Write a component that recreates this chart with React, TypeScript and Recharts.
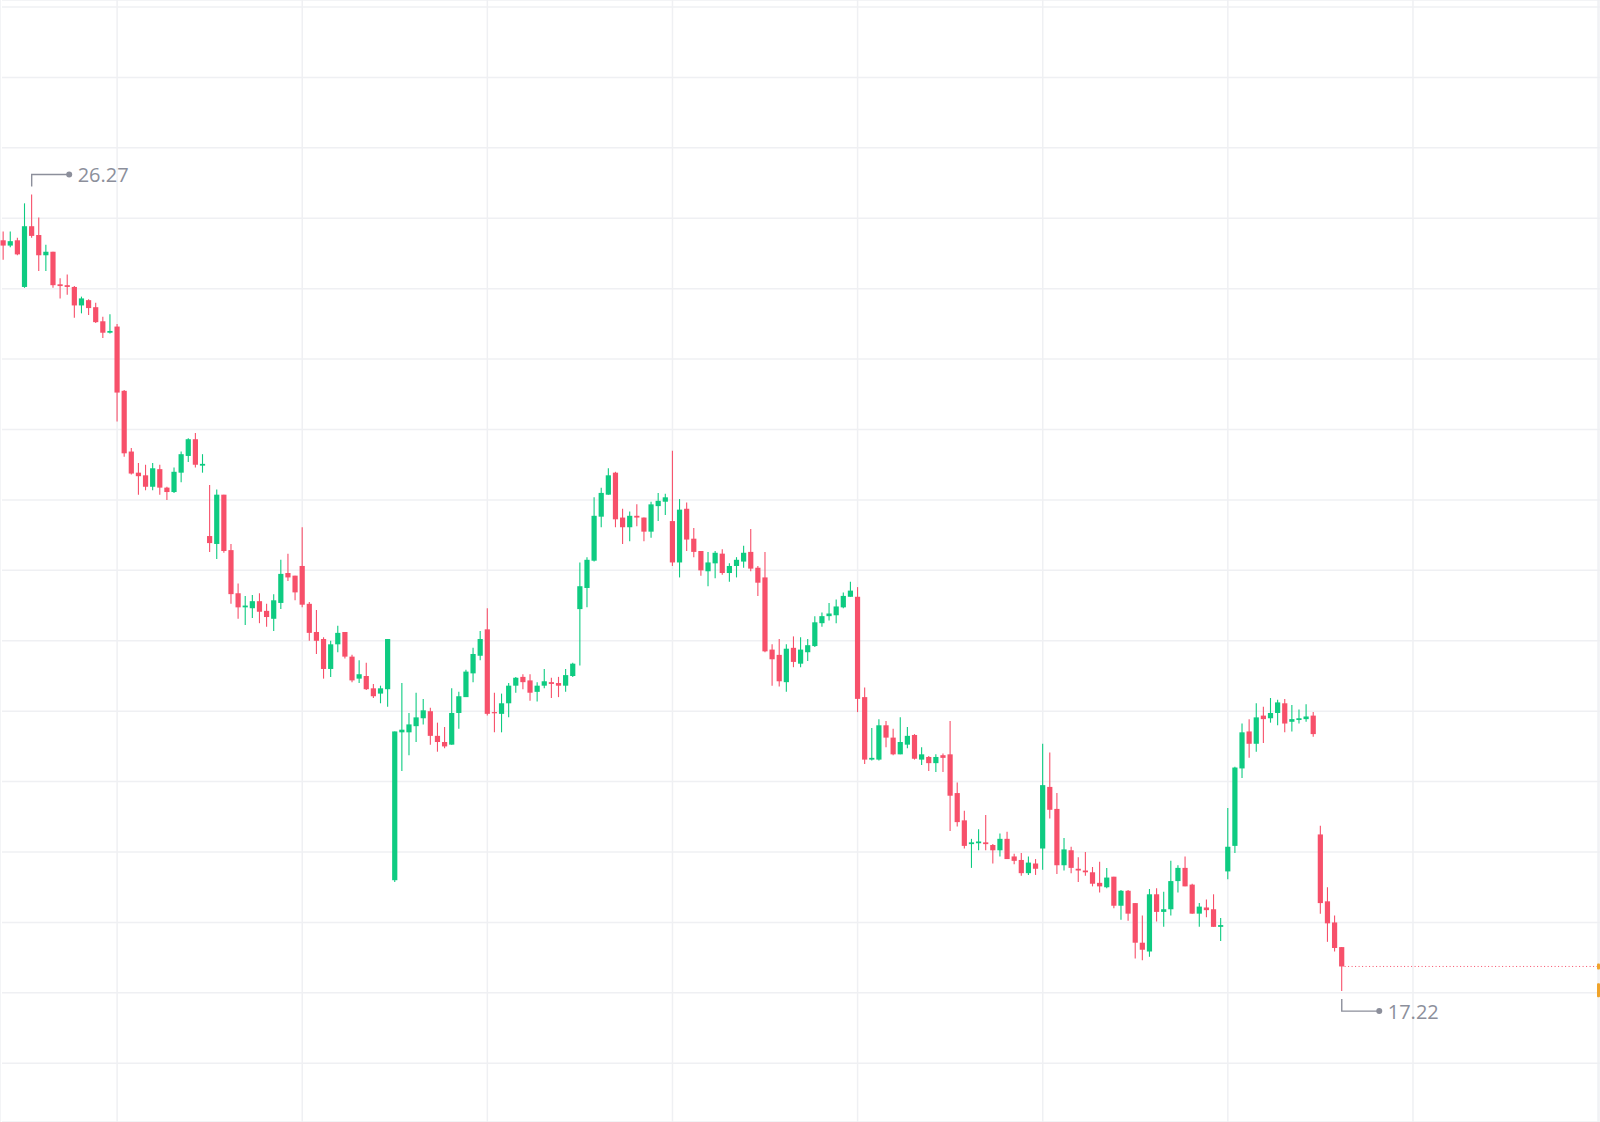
import {
  Bar,
  CartesianGrid,
  ComposedChart,
  ReferenceDot,
  ReferenceLine,
  XAxis,
  YAxis,
} from "recharts";

// daily candles
const opens = [
  25.75, 25.69, 25.75, 25.22, 25.91, 25.81, 25.58, 25.62, 25.25, 25.24,
  25.22, 25.01, 25.07, 24.99, 24.83, 24.7, 24.77, 24.04, 23.35, 23.11,
  23.08, 22.95, 23.15, 22.94, 22.89, 23.11, 23.3, 23.49, 23.19, 22.39,
  22.3, 22.86, 22.23, 21.74, 21.58, 21.57, 21.65, 21.54, 21.45, 21.63,
  21.97, 21.94, 22.05, 21.62, 21.3, 21.22, 20.88, 21.16, 21.3, 21.02,
  20.77, 20.8, 20.66, 20.6, 20.65, 18.48, 20.16, 20.16, 20.23, 20.32,
  20.4, 20.12, 20.05, 20.02, 20.38, 20.56, 20.83, 21.03, 21.33, 20.39,
  20.37, 20.49, 20.69, 20.79, 20.75, 20.62, 20.69, 20.73, 20.72, 20.69,
  20.8, 21.56, 21.8, 22.11, 22.61, 22.86, 23.11, 22.6, 22.49, 22.62,
  22.6, 22.44, 22.73, 22.78, 22.56, 22.09, 22.7, 22.36, 22.22, 21.99,
  22.08, 22.19, 21.97, 22.05, 22.1, 22.21, 22.03, 21.92, 21.1, 21.04,
  20.73, 21.12, 20.94, 21.07, 21.14, 21.4, 21.48, 21.49, 21.58, 21.7,
  21.7, 20.56, 19.85, 19.85, 20.24, 20.1, 19.91, 20.02, 20.13, 19.85,
  19.88, 19.81, 19.9, 19.91, 19.47, 19.16, 18.89, 18.9, 18.91, 18.88,
  18.82, 18.95, 18.75, 18.71, 18.56, 18.67, 18.84, 19.54, 19.29, 18.65,
  18.82, 18.61, 18.59, 18.57, 18.45, 18.4, 18.52, 18.19, 18.36, 18.22,
  17.77, 17.67, 18.32, 18.12, 18.15, 18.47, 18.62, 18.43, 18.1, 18.17,
  18.15, 17.95, 18.58, 18.87, 19.75, 20.17, 20.03, 20.35, 20.32, 20.38,
  20.49, 20.28, 20.3, 20.31, 20.35, 19.0, 18.24, 18.0, 17.72,
];

const highs = [
  25.85, 25.85, 25.78, 26.17, 26.27, 26.01, 25.7, 25.62, 25.32, 25.36,
  25.23, 25.11, 25.08, 25.04, 24.88, 24.91, 24.8, 24.05, 23.39, 23.22,
  23.2, 23.22, 23.2, 22.95, 23.17, 23.35, 23.5, 23.56, 23.32, 22.97,
  22.92, 22.86, 22.3, 21.85, 21.71, 21.72, 21.74, 21.62, 21.73, 22.12,
  22.19, 21.94, 22.49, 21.64, 21.55, 21.24, 21.2, 21.37, 21.3, 21.04,
  20.98, 20.95, 20.71, 20.69, 21.22, 20.17, 20.72, 20.38, 20.61, 20.54,
  20.44, 20.27, 20.22, 20.66, 20.62, 20.87, 21.12, 21.31, 21.57, 20.61,
  20.6, 20.72, 20.79, 20.82, 20.82, 20.73, 20.88, 20.78, 20.79, 20.88,
  20.95, 22.09, 22.15, 22.83, 22.94, 23.16, 23.12, 22.7, 22.67, 22.75,
  22.6, 22.78, 22.88, 22.87, 23.36, 22.81, 22.77, 22.48, 22.22, 22.21,
  22.22, 22.24, 22.08, 22.15, 22.28, 22.47, 22.05, 22.21, 21.16, 21.22,
  21.16, 21.25, 21.24, 21.22, 21.48, 21.52, 21.63, 21.67, 21.75, 21.87,
  21.81, 20.67, 20.21, 20.31, 20.29, 20.2, 20.33, 20.22, 20.14, 19.99,
  19.89, 19.91, 19.92, 20.29, 19.59, 19.27, 18.95, 19.06, 19.22, 18.89,
  19.01, 19.03, 18.78, 18.79, 18.75, 18.72, 20.03, 19.93, 19.47, 18.96,
  18.86, 18.74, 18.8, 18.63, 18.69, 18.62, 18.52, 18.37, 18.37, 18.22,
  18.08, 18.38, 18.39, 18.35, 18.7, 18.65, 18.75, 18.44, 18.22, 18.26,
  18.32, 18.05, 19.3, 19.77, 20.26, 20.31, 20.49, 20.45, 20.55, 20.53,
  20.54, 20.47, 20.42, 20.48, 20.39, 19.1, 18.4, 18.08, 17.72,
];

const lows = [
  25.53, 25.67, 25.58, 25.21, 25.78, 25.4, 25.4, 25.21, 25.09, 25.13,
  24.87, 24.92, 24.9, 24.81, 24.64, 24.69, 23.69, 23.29, 23.09, 22.86,
  22.91, 22.91, 22.86, 22.8, 22.88, 23.0, 23.23, 23.17, 23.11, 22.21,
  22.13, 22.2, 21.62, 21.45, 21.38, 21.46, 21.4, 21.36, 21.31, 21.56,
  21.88, 21.66, 21.58, 21.2, 21.05, 20.77, 20.79, 21.07, 21.0, 20.73,
  20.72, 20.64, 20.55, 20.49, 20.45, 18.46, 19.72, 19.9, 20.05, 20.25,
  20.02, 19.94, 19.98, 20.02, 20.2, 20.56, 20.73, 20.98, 20.35, 20.16,
  20.16, 20.33, 20.61, 20.65, 20.52, 20.51, 20.66, 20.55, 20.56, 20.62,
  20.79, 20.92, 21.58, 22.1, 22.49, 22.86, 22.49, 22.3, 22.33, 22.5,
  22.33, 22.37, 22.56, 22.63, 22.05, 21.92, 22.22, 22.15, 21.94, 21.82,
  21.91, 21.95, 21.87, 21.92, 22.03, 21.99, 21.71, 21.07, 20.69, 20.68,
  20.62, 20.9, 20.9, 20.97, 21.13, 21.36, 21.43, 21.4, 21.57, 21.7,
  20.39, 19.8, 19.84, 19.84, 19.99, 19.9, 19.91, 19.98, 19.85, 19.79,
  19.72, 19.71, 19.71, 19.04, 19.09, 18.84, 18.62, 18.82, 18.82, 18.67,
  18.75, 18.72, 18.66, 18.53, 18.54, 18.54, 18.6, 19.18, 18.55, 18.59,
  18.56, 18.46, 18.53, 18.41, 18.34, 18.39, 18.16, 18.03, 18.02, 17.59,
  17.57, 17.61, 18.01, 17.95, 18.08, 18.34, 18.41, 18.1, 17.95, 18.06,
  17.95, 17.79, 18.49, 18.79, 19.64, 19.87, 19.94, 20.04, 20.27, 20.24,
  20.16, 20.17, 20.26, 20.28, 20.11, 18.1, 17.78, 17.67, 17.22,
];

const closes = [
  25.69, 25.74, 25.59, 25.91, 25.8, 25.58, 25.62, 25.24, 25.23, 25.22,
  25.01, 25.09, 24.98, 24.82, 24.7, 24.72, 24.02, 23.33, 23.1, 23.07,
  22.95, 23.16, 22.94, 22.89, 23.12, 23.32, 23.49, 23.2, 23.21, 22.31,
  22.86, 22.22, 21.73, 21.58, 21.6, 21.65, 21.53, 21.47, 21.66, 21.96,
  21.92, 21.75, 21.61, 21.29, 21.2, 20.88, 21.16, 21.29, 21.02, 20.75,
  20.82, 20.65, 20.57, 20.66, 21.22, 20.17, 20.19, 20.25, 20.33, 20.41,
  20.12, 20.05, 20.0, 20.38, 20.57, 20.85, 21.05, 21.22, 20.37, 20.38,
  20.49, 20.69, 20.78, 20.73, 20.61, 20.69, 20.74, 20.71, 20.69, 20.81,
  20.94, 21.82, 22.12, 22.62, 22.88, 23.08, 22.58, 22.49, 22.62, 22.6,
  22.44, 22.75, 22.79, 22.83, 22.09, 22.69, 22.35, 22.21, 22.0, 22.09,
  22.2, 21.97, 22.05, 22.12, 22.2, 22.02, 21.86, 21.08, 20.99, 20.74,
  21.11, 20.96, 21.1, 21.15, 21.41, 21.48, 21.51, 21.59, 21.71, 21.77,
  20.54, 19.85, 19.87, 20.24, 20.1, 19.91, 20.05, 20.12, 19.86, 19.91,
  19.81, 19.88, 19.87, 19.44, 19.14, 18.87, 18.91, 18.92, 18.89, 18.82,
  18.95, 18.72, 18.7, 18.56, 18.68, 18.61, 19.56, 19.28, 18.65, 18.83,
  18.62, 18.59, 18.57, 18.44, 18.41, 18.51, 18.19, 18.36, 18.1, 17.77,
  17.69, 18.32, 18.12, 18.15, 18.47, 18.62, 18.41, 18.1, 18.18, 18.14,
  17.95, 17.97, 18.86, 19.76, 20.16, 20.03, 20.33, 20.31, 20.38, 20.5,
  20.26, 20.31, 20.32, 20.34, 20.14, 18.22, 17.99, 17.71, 17.5,
];

const priceTicks = [
  16.4, 17.2, 18.0, 18.8, 19.6, 20.4, 21.2, 22.0, 22.8, 23.6, 24.4, 25.2,
  26.0, 26.8, 27.6, 28.4,
];
const timeTicks = [16, 42, 68, 94, 120, 146, 172, 198, 224];

const UP = "#0ecb81";
const DOWN = "#f7506a";
const MUTED = "#8c8f9b";

const X_MIN = -0.45;
const X_MAX = 224.27;
const Y_MIN = 15.733;
const Y_MAX = 28.48;

const data = opens.map((o, i) => ({
  i,
  o,
  h: highs[i],
  l: lows[i],
  c: closes[i],
}));

const hiIdx = highs.indexOf(Math.max(...highs));
const loIdx = lows.indexOf(Math.min(...lows));
const last = data[data.length - 1];

const Candle = (props: any) => {
  const { x, y, width, height, payload } = props;
  if (x == null || y == null) return null;
  const { o, h, l, c } = payload;
  const color = c >= o ? UP : DOWN;
  const cx = x + width / 2;
  const yTop = Math.min(y, y + height);
  const span = Math.abs(height);
  const yAt = (v: number) => (h === l ? yTop : yTop + ((h - v) / (h - l)) * span);
  const bTop = yAt(Math.max(o, c));
  const bBot = yAt(Math.min(o, c));
  return (
    <g>
      <line x1={cx} x2={cx} y1={yTop} y2={yTop + span} stroke={color} strokeWidth={1.1} />
      <rect x={cx - 2.6} y={bTop} width={5.2} height={Math.max(1.2, bBot - bTop)} fill={color} />
    </g>
  );
};

const ExtremeLabel = ({ cx, cy, value, dir }: any) => {
  const y1 = cy + dir * 8;
  const y2 = cy + dir * 20;
  return (
    <g>
      <path d={`M${cx},${y1} V${y2} H${cx + 37.5}`} stroke={MUTED} strokeWidth={1.4} fill="none" />
      <circle cx={cx + 37.5} cy={y2} r={3} fill={MUTED} />
      <text
        x={cx + 46}
        y={y2}
        dominantBaseline="central"
        fill={MUTED}
        fontSize={20}
        fontFamily="'Open Sans', sans-serif"
      >
        {value.toFixed(2)}
      </text>
    </g>
  );
};

const EdgeMark = ({ cx, cy, size }: any) => (
  <rect x={cx - 3} y={cy - size / 2} width={3} height={size} rx={1} fill="#f0a32a" />
);

const App = () => {
  return (
    <div style={{ position: "absolute", left: 0, top: 0, background: "#fff" }}>
      <ComposedChart
        width={1600}
        height={1122}
        data={data}
        margin={{ top: 0, right: 0, bottom: 0, left: 0 }}
      >
        <CartesianGrid x={2} y={0} width={1598} height={1122} stroke="#eff0f3" strokeWidth={1.5} />
        <XAxis
          hide
          type="number"
          dataKey="i"
          domain={[X_MIN, X_MAX]}
          ticks={timeTicks}
          allowDataOverflow
        />
        <YAxis hide domain={[Y_MIN, Y_MAX]} ticks={priceTicks} allowDataOverflow />
        <Bar
          dataKey={(d: any) => [d.l, d.h]}
          barSize={5}
          shape={<Candle />}
          isAnimationActive={false}
        />
        <ReferenceLine
          segment={[
            { x: last.i + 0.4, y: last.c },
            { x: X_MAX, y: last.c },
          ]}
          stroke={DOWN}
          strokeWidth={1}
          strokeDasharray="1 2.5"
        />
        <ReferenceDot
          x={hiIdx}
          y={highs[hiIdx]}
          r={0}
          shape={(p: any) => <ExtremeLabel {...p} value={highs[hiIdx]} dir={-1} />}
        />
        <ReferenceDot
          x={loIdx}
          y={lows[loIdx]}
          r={0}
          shape={(p: any) => <ExtremeLabel {...p} value={lows[loIdx]} dir={1} />}
        />
        <ReferenceDot x={X_MAX} y={last.c} r={0} shape={(p: any) => <EdgeMark {...p} size={6} />} />
        <ReferenceDot x={X_MAX} y={17.23} r={0} shape={(p: any) => <EdgeMark {...p} size={14} />} />
      </ComposedChart>
    </div>
  );
};

export default App;
